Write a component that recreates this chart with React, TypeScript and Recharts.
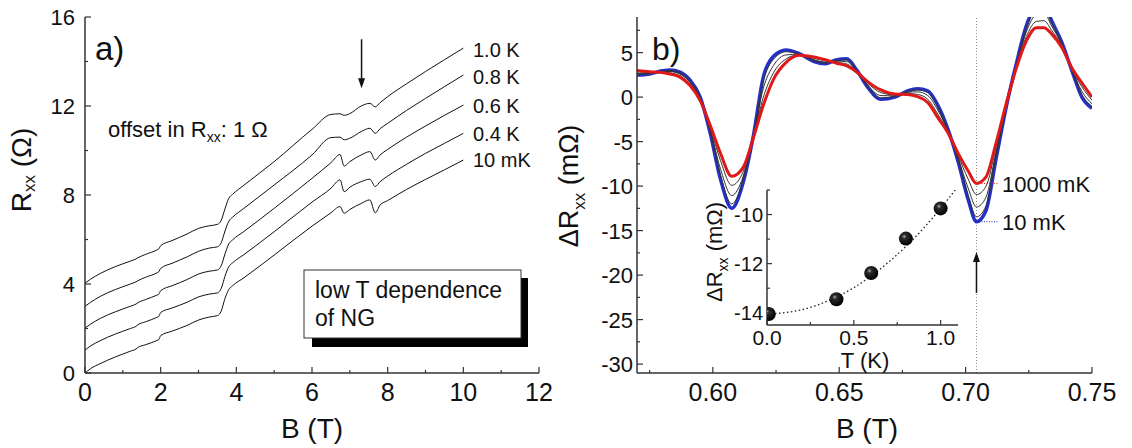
import React from "react";
import { LineChart, Line, XAxis, YAxis, ReferenceLine, ComposedChart, Scatter } from "recharts";

// ---- panel a: Rxx(B), offset by 1 Ohm ----
const fieldA = [0, 0.15, 0.4, 0.8, 1.2, 1.35, 1.4, 1.6, 1.9, 1.95, 2.0, 2.3, 2.7, 3.0, 3.3, 3.5, 3.6, 3.7, 3.8, 3.9, 4.2, 5.0, 6.0, 6.5, 6.74, 6.85, 7.0, 7.3, 7.53, 7.67, 7.8, 8.0, 8.5, 9.0, 9.5, 10.0];
const rxx10mK = [0, 0.2, 0.42, 0.72, 0.98, 1.08, 1.15, 1.27, 1.46, 1.5, 1.68, 1.88, 2.14, 2.38, 2.52, 2.58, 2.78, 3.35, 3.75, 3.92, 4.28, 5.3, 6.6, 7.2, 7.48, 7.18, 7.35, 7.62, 7.78, 7.2, 7.55, 7.75, 8.25, 8.7, 9.13, 9.57];
const rxx04K = [1.03, 1.22, 1.45, 1.75, 2.0, 2.1, 2.17, 2.3, 2.5, 2.54, 2.72, 2.92, 3.18, 3.42, 3.55, 3.6, 3.8, 4.35, 4.78, 4.95, 5.32, 6.35, 7.68, 8.3, 8.68, 8.15, 8.35, 8.6, 8.71, 8.38, 8.6, 8.85, 9.38, 9.87, 10.32, 10.77];
const rxx06K = [2.02, 2.2, 2.45, 2.75, 3.0, 3.1, 3.16, 3.3, 3.5, 3.54, 3.7, 3.92, 4.2, 4.45, 4.58, 4.63, 4.82, 5.35, 5.8, 5.98, 6.36, 7.4, 8.75, 9.45, 9.82, 9.3, 9.5, 9.8, 9.95, 9.57, 9.8, 10.05, 10.6, 11.1, 11.58, 12.04];
const rxx08K = [3.0, 3.18, 3.44, 3.75, 4.0, 4.1, 4.15, 4.3, 4.5, 4.55, 4.7, 4.93, 5.22, 5.47, 5.62, 5.67, 5.85, 6.38, 6.82, 7.0, 7.4, 8.45, 9.8, 10.58, 10.6, 10.48, 10.55, 10.85, 11.0, 10.77, 10.98, 11.22, 11.8, 12.34, 12.87, 13.39];
const rxx10K = [4.04, 4.22, 4.47, 4.78, 5.03, 5.13, 5.18, 5.33, 5.53, 5.58, 5.72, 5.95, 6.25, 6.5, 6.62, 6.68, 6.86, 7.38, 7.85, 8.03, 8.44, 9.5, 10.95, 11.62, 11.65, 11.58, 11.66, 12.0, 12.12, 11.96, 12.15, 12.42, 13.0, 13.55, 14.08, 14.6];
const labelsA = ["1.0 K", "0.8 K", "0.6 K", "0.4 K", "10 mK"];

// ---- panel b: delta Rxx(B) ----
const fieldB = [0.57, 0.575, 0.58, 0.583, 0.587, 0.591, 0.595, 0.599, 0.603, 0.6075, 0.612, 0.616, 0.62, 0.624, 0.629, 0.634, 0.64, 0.6445, 0.649, 0.653, 0.657, 0.661, 0.6665, 0.672, 0.677, 0.681, 0.685, 0.689, 0.693, 0.697, 0.701, 0.7043, 0.708, 0.712, 0.716, 0.72, 0.724, 0.728, 0.731, 0.734, 0.738, 0.742, 0.746, 0.75];
const dR10mK = [2.47, 2.6, 2.95, 3.05, 2.8, 1.9, 0.0, -4.1, -9.2, -12.5, -9.6, -4.4, 2.3, 4.6, 5.3, 4.9, 4.0, 3.75, 4.2, 4.3, 3.0, 1.2, -0.25, 0.0, 0.7, 0.95, 0.7, -0.9, -3.6, -7.2, -11.5, -14.0, -12.8, -7.0, -1.2, 3.7, 8.0, 10.3, 10.6, 8.6, 6.2, 3.0, 0.0, -1.25];
const dR400mK = [2.54, 2.64, 2.92, 2.99, 2.72, 1.82, -0.06, -3.97, -8.79, -12.0, -9.36, -4.43, 1.85, 4.24, 5.1, 4.87, 4.07, 3.81, 4.14, 4.19, 2.97, 1.28, -0.1, 0.05, 0.64, 0.82, 0.52, -1.1, -3.66, -7.07, -11.05, -13.45, -12.27, -6.75, -1.14, 3.63, 7.76, 9.95, 10.21, 8.39, 6.12, 3.04, 0.22, -1.08];
const dR600mK = [2.68, 2.7, 2.87, 2.87, 2.58, 1.66, -0.16, -3.74, -8.04, -11.06, -8.92, -4.48, 1.02, 3.56, 4.74, 4.82, 4.2, 3.93, 4.04, 3.98, 2.92, 1.44, 0.17, 0.14, 0.54, 0.59, 0.18, -1.46, -3.76, -6.84, -10.22, -12.35, -11.28, -6.28, -1.04, 3.5, 7.32, 9.3, 9.48, 8.0, 5.96, 3.12, 0.64, -0.75];
const dR800mK = [2.85, 2.78, 2.81, 2.73, 2.4, 1.47, -0.29, -3.45, -7.11, -9.91, -8.38, -4.54, 0.0, 2.73, 4.29, 4.76, 4.36, 4.07, 3.91, 3.72, 2.86, 1.63, 0.51, 0.25, 0.41, 0.3, -0.24, -1.91, -3.89, -6.55, -9.2, -10.95, -10.06, -5.7, -0.91, 3.34, 6.78, 8.5, 8.58, 7.52, 5.77, 3.22, 1.15, -0.35];
const dR1000mK = [3.0, 2.85, 2.75, 2.6, 2.25, 1.3, -0.4, -3.2, -6.3, -8.9, -7.9, -4.6, -0.9, 2.0, 3.9, 4.7, 4.5, 4.2, 3.8, 3.5, 2.8, 1.8, 0.8, 0.35, 0.3, 0.05, -0.6, -2.3, -4.0, -6.3, -8.3, -9.7, -9.0, -5.2, -0.8, 3.2, 6.3, 7.8, 7.8, 7.1, 5.6, 3.3, 1.6, 0.0];
const markField = 0.7043;

// ---- inset: minimum value vs T ----
const insetT = [0.01, 0.4, 0.6, 0.8, 1.0];
const insetDR = [-14.05, -13.45, -12.38, -10.98, -9.75];
const fitT = [0, 0.1, 0.2, 0.3, 0.4, 0.5, 0.6, 0.7, 0.8, 0.9, 1.0, 1.1];
const fitDR = [-14.05, -14.0, -13.88, -13.66, -13.36, -12.98, -12.5, -11.94, -11.3, -10.57, -9.75, -8.85];

// ticks
const aXTicks = [0, 1, 2, 3, 4, 5, 6, 7, 8, 9, 10, 11, 12];
const aXLabels = [0, 2, 4, 6, 8, 10, 12];
const aYTicks = [0, 2, 4, 6, 8, 10, 12, 14, 16];
const aYLabels = [0, 4, 8, 12, 16];
const bXTicks = [0.575, 0.6, 0.625, 0.65, 0.675, 0.7, 0.725, 0.75];
const bXLabels = [0.6, 0.65, 0.7, 0.75];
const bYTicks = [-30, -27.5, -25, -22.5, -20, -17.5, -15, -12.5, -10, -7.5, -5, -2.5, 0, 2.5, 5, 7.5];
const bYLabels = [-30, -25, -20, -15, -10, -5, 0, 5];
const iXTicks = [0, 0.25, 0.5, 0.75, 1.0];
const iXLabels = [0, 0.5, 1.0];
const iYTicks = [-14, -13, -12, -11, -10, -9];
const iYLabels = [-14, -12, -10];

const rowsA = fieldA.map((B, i) => ({ B, t10mK: rxx10mK[i], t04: rxx04K[i], t06: rxx06K[i], t08: rxx08K[i], t10: rxx10K[i] }));
const rowsB = fieldB.map((B, i) => ({ B, k10: dR10mK[i], k400: dR400mK[i], k600: dR600mK[i], k800: dR800mK[i], k1000: dR1000mK[i] }));
const insetPts = insetT.map((T, i) => ({ T, dR: insetDR[i] }));
const fitRows = fitT.map((T, i) => ({ T, dR: fitDR[i] }));

const FONT = '"Liberation Sans", Arial, Helvetica, sans-serif';
const AX = "#333";
const INK = "#111";

function tickMaker(side: string, labelled: number[], fmt: ((v: number) => string) | null, fontSize = 22, gap = 10, majorLen = 6, minorLen = 3) {
  return (props: any) => {
    const { x, y, payload } = props;
    const v = Number(payload.value);
    const major = labelled.some((m) => Math.abs(m - v) < 1e-9);
    const len = major ? majorLen : minorLen;
    let x2 = x;
    let y2 = y;
    if (side === "bottom") y2 = y - len;
    else if (side === "top") y2 = y + len;
    else if (side === "left") x2 = x + len;
    else x2 = x - len;
    return (
      <g>
        <line x1={x} y1={y} x2={x2} y2={y2} stroke={AX} strokeWidth={1.2} />
        {major && fmt && side === "bottom" && (
          <text x={x} y={y + gap} textAnchor="middle" fontSize={fontSize} fontFamily={FONT} fill={INK}>{fmt(v)}</text>
        )}
        {major && fmt && side === "left" && (
          <text x={x - gap} y={y + fontSize * 0.36} textAnchor="end" fontSize={fontSize} fontFamily={FONT} fill={INK}>{fmt(v)}</text>
        )}
      </g>
    );
  };
}

const ArrowShape = (p: any) => {
  const { x1, y1, x2, y2 } = p;
  const dir = y2 > y1 ? 1 : -1;
  return (
    <g>
      <line x1={x1} y1={y1} x2={x2} y2={y2 - dir * 6} stroke={INK} strokeWidth={1.5} />
      <polygon points={`${x2},${y2} ${x2 - 3.5},${y2 - dir * 10} ${x2 + 3.5},${y2 - dir * 10}`} fill={INK} />
    </g>
  );
};

const Ball = (p: any) => <circle cx={p.cx} cy={p.cy} r={7} fill="url(#ball)" />;

const axisLine = { stroke: AX, strokeWidth: 1.5 };

export default function App() {
  return (
    <div style={{ position: "fixed", left: 0, top: 0, width: 1132, height: 448, background: "#fff", fontFamily: FONT }}>
      <div style={{ position: "absolute", left: 0, top: 0 }}>
        <LineChart width={560} height={448} data={rowsA} margin={{ top: 17, right: 21, bottom: 45, left: 25 }}>
          <XAxis xAxisId="b" dataKey="B" type="number" domain={[0, 12]} ticks={aXTicks} interval={0} height={30} tickSize={0} tickMargin={0} tickLine={false} axisLine={axisLine} allowDataOverflow tick={tickMaker("bottom", aXLabels, (v) => String(v), 25, 28)} />
          <XAxis xAxisId="t" orientation="top" type="number" domain={[0, 12]} ticks={aXTicks} interval={0} height={0} tickSize={0} tickMargin={0} tickLine={false} axisLine={axisLine} allowDataOverflow tick={tickMaker("top", aXLabels, null)} />
          <YAxis yAxisId="l" type="number" domain={[0, 16]} ticks={aYTicks} interval={0} width={60} tickSize={0} tickMargin={0} tickLine={false} axisLine={axisLine} allowDataOverflow tick={tickMaker("left", aYLabels, (v) => String(v), 22, 10)} />
          <YAxis yAxisId="r" orientation="right" type="number" domain={[0, 16]} ticks={aYTicks} interval={0} width={0} tickSize={0} tickMargin={0} tickLine={false} axisLine={axisLine} allowDataOverflow tick={tickMaker("right", aYLabels, null)} />
          {["t10mK", "t04", "t06", "t08", "t10"].map((k) => (
            <Line key={k} xAxisId="b" yAxisId="l" dataKey={k} type="monotone" stroke={INK} strokeWidth={1} dot={false} isAnimationActive={false} />
          ))}
          <ReferenceLine xAxisId="b" yAxisId="l" segment={[{ x: 7.31, y: 15.0 }, { x: 7.31, y: 12.8 }]} shape={ArrowShape} />
        </LineChart>
      </div>

      <div style={{ position: "absolute", left: 560, top: 0 }}>
        <LineChart width={572} height={448} data={rowsB} margin={{ top: 17, right: 40, bottom: 45, left: 17 }}>
          <XAxis xAxisId="b" dataKey="B" type="number" domain={[0.57, 0.75]} ticks={bXTicks} interval={0} height={30} tickSize={0} tickMargin={0} tickLine={false} axisLine={axisLine} allowDataOverflow tick={tickMaker("bottom", bXLabels, (v) => v.toFixed(2), 25, 28)} />
          <XAxis xAxisId="t" orientation="top" type="number" domain={[0.57, 0.75]} ticks={bXTicks} interval={0} height={0} tickSize={0} tickMargin={0} tickLine={false} axisLine={axisLine} allowDataOverflow tick={tickMaker("top", bXLabels, null)} />
          <YAxis yAxisId="l" type="number" domain={[-31, 9]} ticks={bYTicks} interval={0} width={60} tickSize={0} tickMargin={0} tickLine={false} axisLine={axisLine} allowDataOverflow tick={tickMaker("left", bYLabels, (v) => String(v), 22, 4)} />
          <YAxis yAxisId="r" orientation="right" type="number" domain={[-31, 9]} ticks={bYTicks} interval={0} width={0} tickSize={0} tickMargin={0} tickLine={false} axisLine={axisLine} allowDataOverflow tick={tickMaker("right", bYLabels, null)} />
          <ReferenceLine xAxisId="b" yAxisId="l" x={markField} stroke="#888" strokeWidth={1} strokeDasharray="1 2" />
          <Line xAxisId="b" yAxisId="l" dataKey="k10" type="monotone" stroke="#2430c8" strokeWidth={3.5} dot={false} isAnimationActive={false} />
          {["k400", "k600", "k800"].map((k) => (
            <Line key={k} xAxisId="b" yAxisId="l" dataKey={k} type="monotone" stroke="#333" strokeWidth={1} dot={false} isAnimationActive={false} />
          ))}
          <Line xAxisId="b" yAxisId="l" dataKey="k1000" type="monotone" stroke="#e01818" strokeWidth={3} dot={false} isAnimationActive={false} />
          <ReferenceLine xAxisId="b" yAxisId="l" segment={[{ x: markField, y: -9.7 }, { x: 0.7128, y: -9.7 }]} stroke="#e01818" strokeDasharray="1 1.5" />
          <ReferenceLine xAxisId="b" yAxisId="l" segment={[{ x: markField, y: -14.0 }, { x: 0.7128, y: -14.0 }]} stroke="#2430c8" strokeDasharray="1 1.5" />
          <ReferenceLine xAxisId="b" yAxisId="l" segment={[{ x: markField, y: -22.0 }, { x: markField, y: -17.4 }]} shape={ArrowShape} />
        </LineChart>
      </div>

      <div style={{ position: "absolute", left: 700, top: 170 }}>
        <ComposedChart width={280} height={200} margin={{ top: 20, right: 22, bottom: 15, left: 17 }}>
          <defs>
            <radialGradient id="ball" cx="38%" cy="35%" r="65%">
              <stop offset="0%" stopColor="#b0b0b0" />
              <stop offset="25%" stopColor="#2a2a2a" />
              <stop offset="100%" stopColor="#000" />
            </radialGradient>
          </defs>
          <XAxis xAxisId="b" dataKey="T" type="number" domain={[0, 1.1]} ticks={iXTicks} interval={0} height={30} tickSize={0} tickMargin={0} tickLine={false} axisLine={axisLine} allowDataOverflow tick={tickMaker("bottom", iXLabels, (v) => v.toFixed(1), 21, 20, 5, 3)} />
          <XAxis xAxisId="t" orientation="top" type="number" domain={[0, 1.1]} ticks={iXTicks} interval={0} height={0} tickSize={0} tickMargin={0} tickLine={false} axisLine={axisLine} allowDataOverflow tick={tickMaker("top", iXLabels, null, 21, 20, 5, 3)} />
          <YAxis yAxisId="l" type="number" domain={[-14.5, -9]} ticks={iYTicks} interval={0} width={50} tickSize={0} tickMargin={0} tickLine={false} axisLine={axisLine} allowDataOverflow tick={tickMaker("left", iYLabels, (v) => String(v), 20, 4, 5, 3)} />
          <YAxis yAxisId="r" orientation="right" type="number" domain={[-14.5, -9]} ticks={iYTicks} interval={0} width={0} tickSize={0} tickMargin={0} tickLine={false} axisLine={axisLine} allowDataOverflow tick={tickMaker("right", iYLabels, null, 20, 4, 5, 3)} />
          <Line xAxisId="b" yAxisId="l" data={fitRows} dataKey="dR" type="monotone" stroke="#222" strokeWidth={1.3} strokeDasharray="1.5 2.5" dot={false} isAnimationActive={false} />
          <Scatter xAxisId="b" yAxisId="l" data={insetPts} dataKey="dR" shape={Ball} isAnimationActive={false} />
        </ComposedChart>
      </div>

      <svg width={1132} height={448} style={{ position: "absolute", left: 0, top: 0, pointerEvents: "none" }} fontFamily={FONT} fill={INK}>
        <text x={95} y={60} fontSize={33}>a)</text>
        <text x={652} y={60} fontSize={32}>b)</text>
        {labelsA.map((s, i) => (
          <text key={s} x={473} y={[57, 84, 113, 141, 167][i]} fontSize={20}>{s}</text>
        ))}
        <text x={108} y={137} fontSize={22}>
          offset in R<tspan fontSize={14} dy={5}>xx</tspan>
          <tspan dy={-5}>: 1 Ω</tspan>
        </text>
        <rect x={312} y={278} width={216} height={69} fill="#000" />
        <rect x={304} y={270} width={217} height={68} fill="#fff" stroke="#333" strokeWidth={1} />
        <text x={315} y={298} fontSize={23}>low T dependence</text>
        <text x={315} y={326} fontSize={23}>of NG</text>
        <text x={1002} y={192} fontSize={22}>1000 mK</text>
        <text x={1002} y={230} fontSize={22}>10 mK</text>
        <text x={312} y={438} fontSize={28} textAnchor="middle">B (T)</text>
        <text x={867} y={438} fontSize={28} textAnchor="middle">B (T)</text>
        <text x={865} y={368} fontSize={22} textAnchor="middle">T (K)</text>
        <text transform="translate(31,170) rotate(-90)" fontSize={28} textAnchor="middle">
          R<tspan fontSize={17} dy={4}>xx</tspan>
          <tspan dy={-4}> (Ω)</tspan>
        </text>
        <text transform="translate(578,186) rotate(-90)" fontSize={27} textAnchor="middle">
          ΔR<tspan fontSize={17} dy={7}>xx</tspan>
          <tspan dy={-7}> (mΩ)</tspan>
        </text>
        <text transform="translate(722,252) rotate(-90)" fontSize={22} textAnchor="middle">
          ΔR<tspan fontSize={14} dy={6}>xx</tspan>
          <tspan dy={-6}> (mΩ)</tspan>
        </text>
      </svg>
    </div>
  );
}
